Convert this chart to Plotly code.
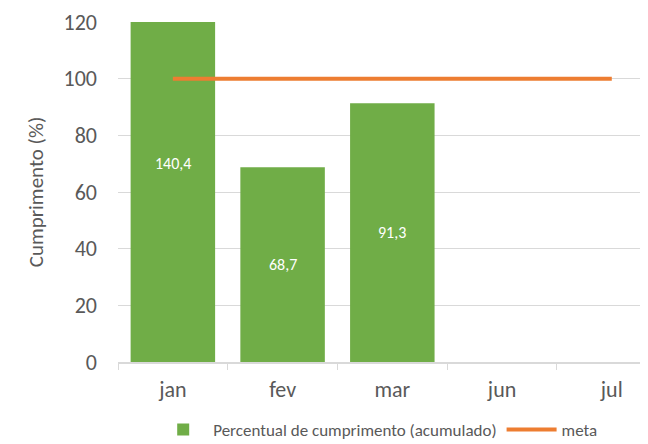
import plotly.graph_objects as go

categories = ["jan", "fev", "mar", "jun", "jul"]
cumprimento = [140.4, 68.7, 91.3, None, None]
meta = [100, 100, 100, 100, 100]
bar_labels = ["140,4", "68,7", "91,3", "", ""]

FONT = "Carlito, Lato, Liberation Sans, sans-serif"
GREEN = "#70AD47"
ORANGE = "#ED7D31"
GRAY = "#595959"

fig = go.Figure()
fig.add_trace(go.Bar(
    x=categories, y=cumprimento, name="Percentual de cumprimento (acumulado)",
    marker=dict(color=GREEN, line=dict(width=0)), width=0.77,
))
fig.add_trace(go.Scatter(
    x=categories, y=meta, name="meta", mode="lines",
    line=dict(color=ORANGE, width=4),
))

for c, v, t in zip(categories, cumprimento, bar_labels):
    if v is not None and t:
        fig.add_annotation(x=c, y=v / 2, text=t, showarrow=False,
                           font=dict(color="white", size=16, family=FONT))

fig.update_layout(
    width=640, height=436,
    margin=dict(l=110, r=0, t=14, b=82, autoexpand=False),
    paper_bgcolor="white", plot_bgcolor="white",
    font=dict(family=FONT, color=GRAY),
    showlegend=True,
    legend=dict(orientation="h", x=0.49, xanchor="center", y=-0.2, yanchor="middle",
                font=dict(size=17, color=GRAY, family=FONT), itemwidth=50,
                traceorder="normal", tracegroupgap=0),
)
fig.update_xaxes(
    type="category", range=[-0.5, 4.33], automargin=False,
    showline=True, linecolor="#D9D9D9", linewidth=1.5,
    ticks="outside", tickson="boundaries", ticklen=6, tickcolor="#D9D9D9",
    tickfont=dict(size=22, color=GRAY, family=FONT),
    showgrid=False, ticklabelstandoff=7,
)
fig.update_yaxes(
    range=[0, 120], dtick=20, tick0=0, automargin=False,
    showgrid=True, gridcolor="#D9D9D9", gridwidth=1,
    zeroline=False, showline=False,
    tickfont=dict(size=22, color=GRAY, family=FONT),
    ticklabelstandoff=20,
    title=dict(text="Cumprimento (%)", font=dict(size=21, color=GRAY, family=FONT), standoff=14),
)

fig.write_html("out.html")
